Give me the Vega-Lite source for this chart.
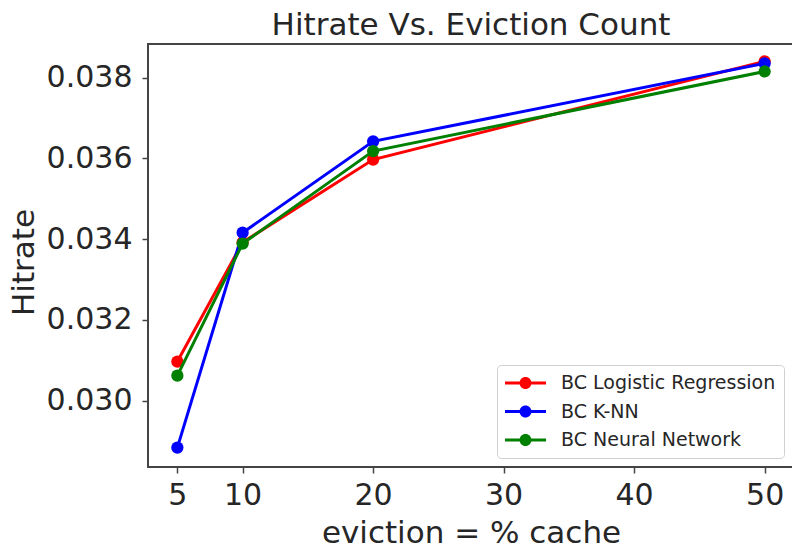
{
  "$schema": "https://vega.github.io/schema/vega-lite/v6.json",
  "autosize": "none",
  "padding": {"left": 148, "top": 44, "right": 0, "bottom": 81},
  "width": 646,
  "height": 423,
  "background": "white",
  "config": {
    "font": "DejaVu Sans",
    "view": {"stroke": "#444444", "strokeWidth": 2},
    "axis": {
      "grid": false,
      "domain": false,
      "tickColor": "#444444",
      "tickWidth": 1.5,
      "tickSize": 6,
      "labelFont": "DejaVu Sans",
      "labelFontSize": 30,
      "labelColor": "#262626",
      "titleFont": "DejaVu Sans",
      "titleFontSize": 31,
      "titleFontWeight": "normal",
      "titleColor": "#262626",
      "labelOverlap": false,
      "labelFlush": false
    }
  },
  "title": {
    "text": "Hitrate Vs. Eviction Count",
    "font": "DejaVu Sans",
    "fontSize": 31,
    "fontWeight": "normal",
    "color": "#262626",
    "anchor": "middle",
    "frame": "group",
    "baseline": "alphabetic",
    "offset": 9,
    "dy": 31
  },
  "data": {
    "values": [
      {"model": "BC Logistic Regression", "eviction": 5, "hitrate": 0.03097},
      {"model": "BC Logistic Regression", "eviction": 10, "hitrate": 0.03392},
      {"model": "BC Logistic Regression", "eviction": 20, "hitrate": 0.03597},
      {"model": "BC Logistic Regression", "eviction": 50, "hitrate": 0.03840},
      {"model": "BC K-NN", "eviction": 5, "hitrate": 0.02884},
      {"model": "BC K-NN", "eviction": 10, "hitrate": 0.03416},
      {"model": "BC K-NN", "eviction": 20, "hitrate": 0.03642},
      {"model": "BC K-NN", "eviction": 50, "hitrate": 0.03835},
      {"model": "BC Neural Network", "eviction": 5, "hitrate": 0.03062},
      {"model": "BC Neural Network", "eviction": 10, "hitrate": 0.03389},
      {"model": "BC Neural Network", "eviction": 20, "hitrate": 0.03618},
      {"model": "BC Neural Network", "eviction": 50, "hitrate": 0.03815}
    ]
  },
  "encoding": {
    "x": {
      "field": "eviction",
      "type": "quantitative",
      "scale": {"domain": [2.75, 52.25], "nice": false, "zero": false},
      "axis": {
        "values": [5, 10, 20, 30, 40, 50],
        "labelPadding": 7,
        "title": "eviction = % cache",
        "titleBaseline": "alphabetic",
        "titleAlign": "center",
        "titleY": 75
      }
    },
    "y": {
      "field": "hitrate",
      "type": "quantitative",
      "scale": {"domain": [0.02836, 0.03883], "nice": false, "zero": false},
      "axis": {
        "values": [0.030, 0.032, 0.034, 0.036, 0.038],
        "format": ".3f",
        "labelPadding": 10,
        "title": "Hitrate",
        "titleBaseline": "alphabetic",
        "titleAlign": "center",
        "titleAngle": 270,
        "titleX": -115,
        "titleY": 218
      }
    },
    "color": {
      "field": "model",
      "type": "nominal",
      "scale": {
        "domain": ["BC Logistic Regression", "BC K-NN", "BC Neural Network"],
        "range": ["#ff0000", "#0000ff", "#008000"]
      },
      "legend": {
        "title": null,
        "orient": "none",
        "legendX": 349,
        "legendY": 321,
        "padding": 8,
        "fillColor": "white",
        "strokeColor": "#d0d0d0",
        "cornerRadius": 4,
        "labelFont": "DejaVu Sans",
        "labelFontSize": 19,
        "labelColor": "#262626",
        "labelOffset": 36,
        "labelLimit": 400,
        "rowPadding": 8.5,
        "symbolType": "M-1,-0.15H3.1V0.15H-1Z M1.65,0A0.6,0.6,0,1,1,0.45,0A0.6,0.6,0,1,1,1.65,0Z",
        "symbolSize": 400,
        "symbolStrokeWidth": 0,
        "encode": {
          "symbols": {
            "update": {
              "fill": {"scale": "color", "field": "value"},
              "strokeWidth": {"value": 0},
              "opacity": {"value": 1}
            }
          }
        }
      }
    }
  },
  "layer": [
    {
      "transform": [{"filter": "datum.model === 'BC Logistic Regression'"}],
      "mark": {"type": "line", "strokeWidth": 3, "point": {"filled": true, "size": 150, "opacity": 1}}
    },
    {
      "transform": [{"filter": "datum.model === 'BC K-NN'"}],
      "mark": {"type": "line", "strokeWidth": 3, "point": {"filled": true, "size": 150, "opacity": 1}}
    },
    {
      "transform": [{"filter": "datum.model === 'BC Neural Network'"}],
      "mark": {"type": "line", "strokeWidth": 3, "point": {"filled": true, "size": 150, "opacity": 1}}
    }
  ]
}
